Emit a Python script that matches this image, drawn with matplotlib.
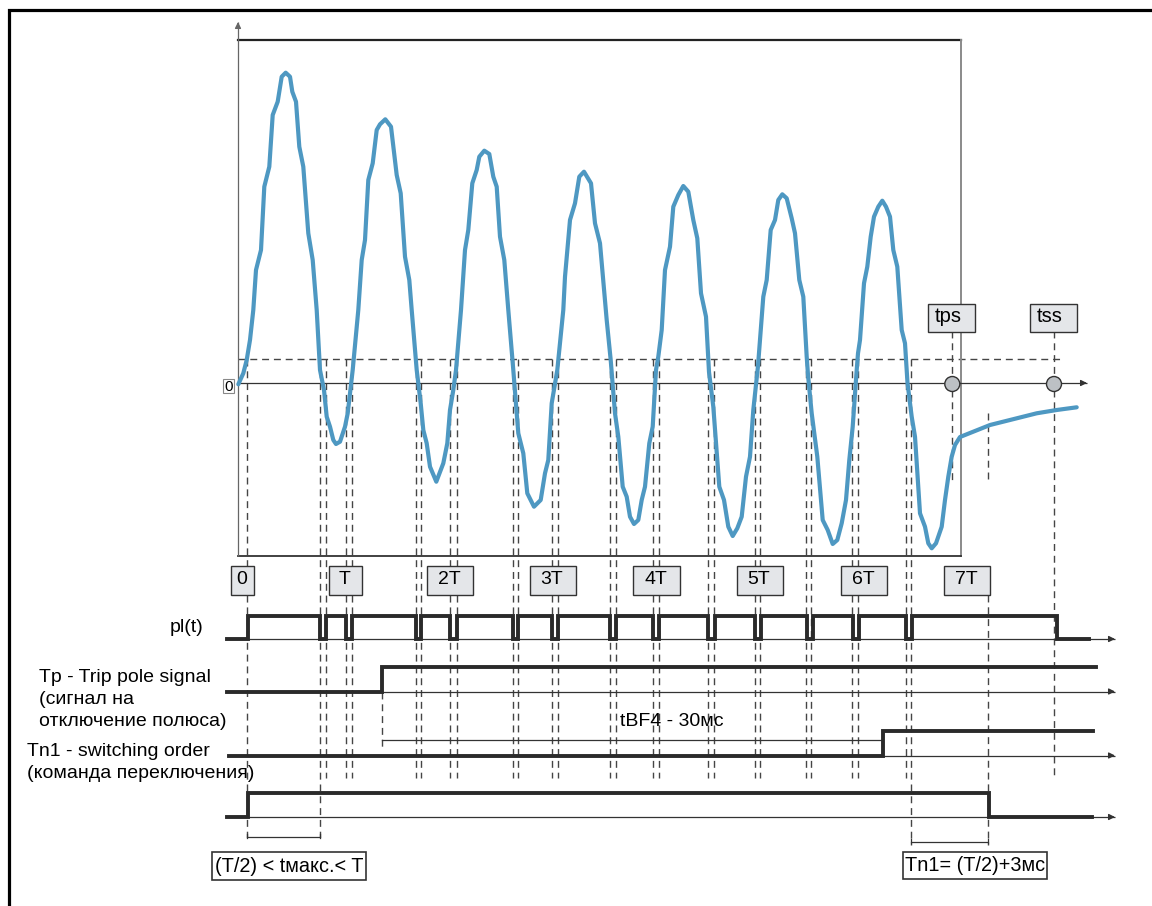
import matplotlib
matplotlib.use('Agg')
import matplotlib.pyplot as plt
from matplotlib.patches import Rectangle, Circle

plt.rcParams['font.family'] = ['Liberation Sans', 'DejaVu Sans']

# ---------------- data (diagram units = pixels) -------------
wave_x = [238.3, 243.3, 246.7, 250, 253.3, 256, 261, 264.3, 269.3, 272.7, 277.7, 281.7, 285.7, 290, 292.3,
          296, 299.3, 303.3, 308.3, 312.7, 316.7,
          320, 324, 326.7, 330, 333.3, 336, 340, 345, 347.7, 350, 352.7,
          358.3, 361.7, 365, 368.3, 372.7, 376.7, 380, 385.3, 391, 396.7, 400.7, 405, 409.3, 411.7,
          416.7, 420.7, 423.3, 426.7, 430, 436.3, 443.3, 447.3, 450, 453.3, 456,
          461, 465, 468.3, 472.3, 476.7, 479.3, 484.3, 489.3, 493.3, 496.7, 500, 504.3, 508.3,
          513.3, 518.3, 523.3, 527.3, 534, 540.7, 545, 548.3, 551.7, 557.3,
          563.3, 565, 570, 575, 579.3, 584, 591, 595, 600, 606.7, 610.7,
          615, 618.3, 622.7, 626.7, 630, 634, 638.3, 641.7, 645, 649.3, 652.7, 656,
          658.3, 661.7, 665, 670, 673.3, 678.3, 683.3, 688.3, 693.3, 697.3, 701, 706, 709,
          713.3, 719.3, 724, 728.3, 732.7, 737.3, 741.7, 746, 750, 753.3, 758,
          763.3, 766.7, 770.7, 775, 778.3, 782.3, 786.7, 791.7, 795, 799.3, 803.3, 806.7, 808,
          811.7, 817.3, 822.7, 827.7, 832.7, 837.3, 841.7, 846, 849.3, 852.7, 856.7,
          858, 860, 864, 867.3, 870.7, 874, 878.3, 882.3, 886, 890, 893.3, 897.3, 901.7, 905, 907.5,
          911.7, 915, 920, 925, 928.3, 931.7, 936, 941.7, 945, 948.3, 951.7, 955, 960,
          973.3, 990, 1016.7, 1036.7, 1056.7, 1076.7]
wave_y = [384.3, 373.3, 360, 340, 310, 270, 250, 186.7, 166.7, 115, 101.7, 76.7, 72.7, 76.7, 91.7,
          101.7, 146.7, 166.7, 233.3, 260, 310,
          370, 390, 416.7, 426.7, 440, 444, 441.7, 426.7, 413.3, 393.3, 370,
          310, 260, 240, 180, 163.3, 130, 124.3, 119.3, 126.7, 175, 193.3, 256.7, 280, 310,
          370, 403.3, 430, 443.3, 466.7, 481.7, 463.3, 443.3, 410, 390, 370,
          310, 250, 230, 183.3, 170, 156.7, 150.7, 154, 176.7, 186.7, 236.7, 260, 310,
          370, 433.3, 453.3, 493.3, 506.7, 500, 473.3, 460, 403.3, 370,
          310, 276.7, 220, 203.3, 176.7, 171.7, 183.3, 223.3, 243.3, 320, 360,
          413.3, 436.7, 486.7, 496.7, 516.7, 524, 520, 500, 486.7, 443.3, 426.7, 370,
          356.7, 330, 270, 246.7, 206.7, 195, 186, 191.7, 220, 238.3, 293.3, 316.7, 372,
          406.7, 486.7, 500, 526.7, 536, 528.3, 516.7, 476.7, 456.7, 410, 366,
          296.7, 280, 230, 220, 200, 194.3, 198.3, 218.3, 233.3, 280, 296.7, 356.7, 375,
          413.3, 456.7, 520, 530, 544, 540, 523.3, 500, 460, 426.7, 370,
          353.3, 340, 283.3, 266.7, 236.7, 216.7, 206.7, 200.7, 206.7, 216.7, 250, 266.7, 330, 343.3, 383,
          416.7, 436.7, 513.3, 526.7, 543.3, 548.3, 543.3, 526.7, 500, 476.7, 456.7, 445, 437,
          431.7, 425, 418.3, 413.3, 410, 407.3]

period_labels = ['0', 'T', '2T', '3T', '4T', '5T', '6T', '7T']
period_box_left = [231, 329, 427, 530, 633, 737, 841, 944]
period_box_right = [254, 362, 473, 576, 680, 783, 887, 990]

# pulse signal pl(t): transition instants, level of each segment (0 low / 1 high)
pl_edges = [227, 247.7, 320, 326, 345.5, 352, 415.5, 421, 450, 456.5, 512.5, 518, 551.7, 558.3,
            610, 616, 653, 659.4, 708, 714.5, 755, 761, 807, 813, 853, 859, 906, 912, 1057, 1089]
pl_levels = [0, 1, 0, 1, 0, 1, 0, 1, 0, 1, 0, 1, 0, 1, 0, 1, 0, 1, 0, 1, 0, 1, 0, 1, 0, 1, 0, 1, 0]
tp_edges = [227, 382.3, 1096]
tp_levels = [0, 1]
tn1_edges = [229, 883, 1093]
tn1_levels = [0, 1]
out_edges = [227, 248.3, 988.5, 1092]
out_levels = [0, 1, 0]

dash_x = [247.3, 320, 326, 345.7, 352, 415.7, 421, 450, 456.7, 512.7, 518, 551.7, 558.3, 610, 615.5,
          653.3, 659, 707.5, 713.5, 754.5, 760, 805.5, 811, 852, 857.8, 905.5, 911]
dash_bottom = [837, 837] + [778] * 24 + [845]

# ---------------- figure ----------------
W, H = 1152, 906
fig = plt.figure(figsize=(W / 100, H / 100), dpi=100)
ax = fig.add_axes([0, 0, 1, 1])
ax.set_xlim(0, W)
ax.set_ylim(H, 0)
ax.axis('off')

DARK = '#2a2a2a'
DASH = dict(color='#454545', lw=1.0, ls=(0, (5, 3.5)), zorder=1)
FS = 14


def arrow_line(x0, y0, x1, y1, color='#333333', lw=0.9):
    ax.plot([x0, x1], [y0, y1], color=color, lw=lw, zorder=2, solid_capstyle='butt')
    ax.annotate('', xy=(x1, y1), xytext=(x1 - (6 if x1 != x0 else 0),
                                          y1 + (6 if y1 != y0 and y1 < y0 else 0)),
                arrowprops=dict(arrowstyle='-|>', color=color, lw=lw, mutation_scale=9,
                                shrinkA=0, shrinkB=0), zorder=3)


# outer frame
ax.plot([9, 9, W], [H, 10, 10], color='black', lw=2.3, solid_joinstyle='miter', zorder=5)

# waveform frame
ax.plot([238, 961], [40, 40], color='#222222', lw=1.6, zorder=2)
ax.plot([961, 961], [40, 556], color='#8a8a8a', lw=1.4, zorder=2)
ax.plot([238, 961], [556, 556], color='#333333', lw=1.3, zorder=2)
arrow_line(238, 556, 238, 22, color='#666666', lw=0.9)

# zero line and threshold line
arrow_line(238, 383, 1087, 383)
ax.plot([238, 1062], [359, 359], **DASH)

# zero label box
ax.add_patch(Rectangle((223.3, 379.3), 11, 14, fc='white', ec='#888888', lw=0.8, zorder=4))
ax.text(228.8, 386.8, '0', fontsize=11, ha='center', va='center', zorder=5)

# vertical dashed lines
for x, yb in zip(dash_x, dash_bottom):
    ax.plot([x, x], [359, yb], **DASH)
ax.plot([952, 952], [331, 480], **DASH)
ax.plot([1054, 1054], [331, 778], **DASH)
ax.plot([988, 988], [413, 480], **DASH)
ax.plot([988, 988], [595, 845], **DASH)
ax.plot([382.3, 382.3], [692, 748], **DASH)

# waveform
ax.plot(wave_x, wave_y, color='#4e98c2', lw=3.0, solid_joinstyle='round', solid_capstyle='round', zorder=6)

# tps / tss markers
for cx, lab in [(952.3, 'tps'), (1054, 'tss')]:
    ax.add_patch(Rectangle((cx - 24, 303.5), 47, 28, fc='#e4e6e9', ec='#333333', lw=1.0, zorder=7))
    ax.text(cx - 4, 316, lab, fontsize=FS + 0.5, ha='center', va='center', zorder=8)
    ax.add_patch(Circle((cx, 384), 7.5, fc='#bcc0c4', ec='#333333', lw=1.0, zorder=8))

# period boxes
for lab, xl, xr in zip(period_labels, period_box_left, period_box_right):
    ax.add_patch(Rectangle((xl, 566), xr - xl, 29, fc='#e4e6e9', ec='#333333', lw=1.0, zorder=7))
    ax.text((xl + xr) / 2 - 1, 579.5, lab, fontsize=FS, ha='center', va='center', zorder=8)


# logic signals
def signal(edges, levels, y_low, y_high, axis_start):
    arrow_line(axis_start, y_low, 1115, y_low)
    ys = [y_high if lv else y_low for lv in levels]
    ax.step(edges, ys + [ys[-1]], where='post', color=DARK, lw=2.8, zorder=4,
            solid_joinstyle='miter')


signal(pl_edges, pl_levels, 639, 616, 240)
signal(tp_edges, tp_levels, 691.5, 667, 240)
signal(tn1_edges, tn1_levels, 755.5, 731, 240)
signal(out_edges, out_levels, 817, 793, 240)

# tBF4 interval line
ax.plot([382.3, 883], [740, 740], color='#333333', lw=0.9, zorder=2)
ax.text(672, 721, 'tBF4 - 30мс', fontsize=FS, ha='center', va='center')

# left labels
ax.text(203, 628, 'pl(t)', fontsize=FS, ha='right', va='center')
ax.text(39, 677, 'Tp - Trip pole signal', fontsize=FS, ha='left', va='center')
ax.text(39, 700, '(сигнал на', fontsize=FS, ha='left', va='center')
ax.text(39, 722, 'отключение полюса)', fontsize=FS, ha='left', va='center')
ax.text(27, 751, 'Tn1 - switching order', fontsize=FS, ha='left', va='center')
ax.text(27, 773, '(команда переключения)', fontsize=FS, ha='left', va='center')

# brackets
for x0, x1, yb in [(247, 320, 837), (911, 988, 842)]:
    ax.plot([x0, x1], [yb, yb], color='#333333', lw=0.9)
    ax.plot([x0, x0], [yb - 3, yb + 1], color='#333333', lw=0.9)
    ax.plot([x1, x1], [yb - 3, yb + 1], color='#333333', lw=0.9)

# bottom annotation boxes
ax.add_patch(Rectangle((211.7, 851.7), 154.3, 28.3, fc='white', ec='#333333', lw=1.2))
ax.text(289, 866, '(T/2) < tмакс.< T', fontsize=14.3, ha='center', va='center')
ax.add_patch(Rectangle((902.7, 851.7), 144, 27.6, fc='white', ec='#333333', lw=1.2))
ax.text(974.7, 865.5, 'Tn1= (T/2)+3мс', fontsize=14.3, ha='center', va='center')

fig.savefig('out.png', dpi=100)
